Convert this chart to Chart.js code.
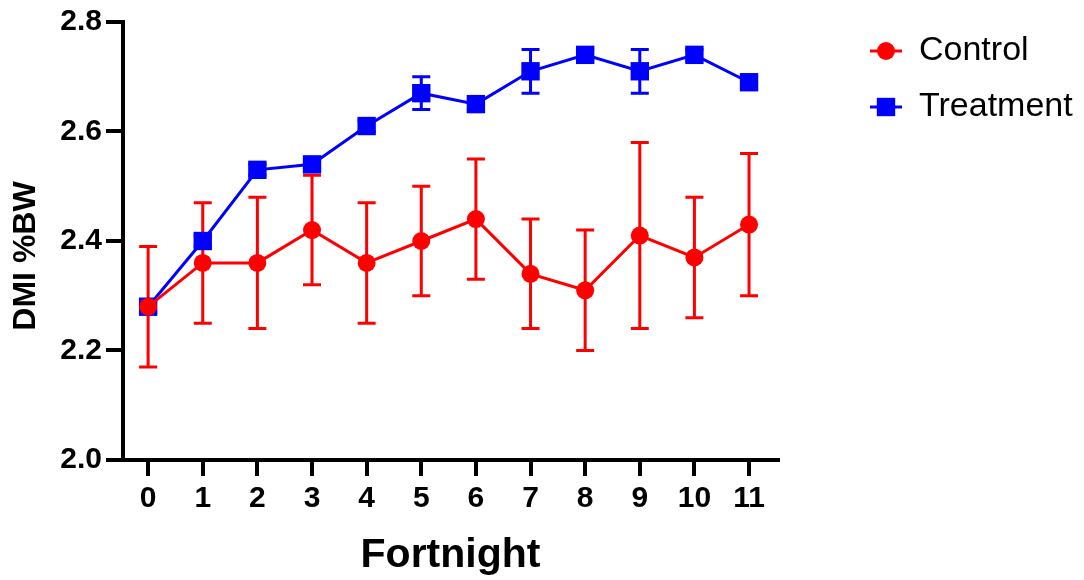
<!DOCTYPE html>
<html>
<head>
<meta charset="utf-8">
<title>DMI %BW by fortnight</title>
<script src="https://cdn.jsdelivr.net/npm/chart.js@4.4.1/dist/chart.umd.min.js"></script>
<style>
  html, body { margin: 0; padding: 0; background: #fff; }
  #wrap { width: 1084px; height: 580px; position: relative; }
</style>
</head>
<body>
<div id="wrap"><canvas id="dmiChart"></canvas></div>
<script>
// Dry matter intake as % body weight, mean and SD per fortnight
const fortnights = [0, 1, 2, 3, 4, 5, 6, 7, 8, 9, 10, 11];
const controlMean = [2.28, 2.36, 2.36, 2.42, 2.36, 2.40, 2.44, 2.34, 2.31, 2.41, 2.37, 2.43];
const controlSd = [0.11, 0.11, 0.12, 0.10, 0.11, 0.10, 0.11, 0.10, 0.11, 0.17, 0.11, 0.13];
const treatmentMean = [2.28, 2.40, 2.53, 2.54, 2.61, 2.67, 2.65, 2.71, 2.74, 2.71, 2.74, 2.69];
const treatmentSd = [0.01, 0.01, 0.01, 0.01, 0.01, 0.03, 0.01, 0.04, 0.01, 0.04, 0.01, 0.01];
const yTicks = [2.0, 2.2, 2.4, 2.6, 2.8];
const yTitle = 'DMI %BW';
const xTitle = 'Fortnight';

const RED = '#ff0000';
const BLUE = '#0000ff';
const FONT = "'Liberation Sans', Arial, Helvetica, sans-serif";

// Vertical error bars with caps, drawn underneath lines and markers
const errorBarPlugin = {
    id: 'errorBars',
    beforeDatasetsDraw(chart) {
        const { ctx, scales: { x, y } } = chart;
        for (let i = chart.data.datasets.length - 1; i >= 0; i--) {
            const ds = chart.data.datasets[i];
            ctx.save();
            ctx.strokeStyle = ds.borderColor;
            ctx.lineWidth = 3;
            ds.data.forEach((pt, j) => {
                const sd = ds.sd[j];
                const px = x.getPixelForValue(pt.x);
                const top = y.getPixelForValue(pt.y + sd);
                const bot = y.getPixelForValue(pt.y - sd);
                ctx.beginPath();
                ctx.moveTo(px, top); ctx.lineTo(px, bot);
                ctx.moveTo(px - 9, top); ctx.lineTo(px + 9, top);
                ctx.moveTo(px - 9, bot); ctx.lineTo(px + 9, bot);
                ctx.stroke();
            });
            ctx.restore();
        }
    }
};

// Legend on the right plus the rotated y-axis title
const sideLegendPlugin = {
    id: 'sideLegend',
    afterDraw(chart) {
        const { ctx } = chart;
        const rows = [51, 107];
        chart.data.datasets.forEach((ds, i) => {
            const cy = rows[i];
            ctx.save();
            ctx.strokeStyle = ds.borderColor;
            ctx.fillStyle = ds.borderColor;
            ctx.lineWidth = 3;
            ctx.beginPath();
            ctx.moveTo(870, cy); ctx.lineTo(902, cy);
            ctx.stroke();
            Chart.helpers.drawPoint(ctx, {
                pointStyle: ds.pointStyle,
                radius: ds.pointRadius,
                borderWidth: 0
            }, 886, cy);
            ctx.fillStyle = '#000';
            ctx.font = '34px ' + FONT;
            ctx.textBaseline = 'middle';
            ctx.textAlign = 'left';
            ctx.fillText(ds.label, 919, cy);
            ctx.restore();
        });

        ctx.save();
        ctx.translate(26, 256);
        ctx.rotate(-Math.PI / 2);
        ctx.fillStyle = '#000';
        ctx.font = 'bold 32px ' + FONT;
        ctx.textAlign = 'center';
        ctx.textBaseline = 'middle';
        ctx.fillText(yTitle, 0, 0);
        ctx.restore();
    }
};

const ctx = document.getElementById('dmiChart').getContext('2d');

new Chart(ctx, {
    type: 'line',
    data: {
        datasets: [
            {
                label: 'Control',
                data: fortnights.map((f, i) => ({ x: f, y: controlMean[i] })),
                sd: controlSd,
                borderColor: RED,
                backgroundColor: RED,
                borderWidth: 3,
                pointStyle: 'circle',
                pointRadius: 9,
                pointBorderWidth: 0,
                tension: 0,
                fill: false
            },
            {
                label: 'Treatment',
                data: fortnights.map((f, i) => ({ x: f, y: treatmentMean[i] })),
                sd: treatmentSd,
                borderColor: BLUE,
                backgroundColor: BLUE,
                borderWidth: 3,
                pointStyle: 'rect',
                pointRadius: 13,
                pointBorderWidth: 0,
                tension: 0,
                fill: false
            }
        ]
    },
    options: {
        responsive: true,
        maintainAspectRatio: false,
        animation: false,
        layout: { padding: { top: 22, right: 306, left: 0, bottom: 0 } },
        scales: {
            x: {
                type: 'linear',
                min: -0.46,
                max: 11.53,
                afterFit: s => { s.height = 120; },
                afterBuildTicks: s => { s.ticks = fortnights.map(v => ({ value: v })); },
                grid: { drawOnChartArea: false, drawTicks: true, tickLength: 16, color: '#000', lineWidth: 4 },
                border: { color: '#000', width: 4 },
                ticks: {
                    color: '#000',
                    padding: 5,
                    font: { family: FONT, size: 30, weight: 'bold' },
                    callback: v => String(v)
                },
                title: {
                    display: true,
                    text: xTitle,
                    color: '#000',
                    font: { family: FONT, size: 41, weight: 'bold' },
                    padding: { top: 0, bottom: 0 }
                }
            },
            y: {
                min: 2.0,
                max: 2.8,
                afterFit: s => { s.width = 123; },
                afterBuildTicks: s => { s.ticks = yTicks.map(v => ({ value: v })); },
                grid: { drawOnChartArea: false, drawTicks: true, tickLength: 17, color: '#000', lineWidth: 4 },
                border: { color: '#000', width: 4 },
                ticks: {
                    color: '#000',
                    padding: 4,
                    font: { family: FONT, size: 30, weight: 'bold' },
                    callback: v => v.toFixed(1)
                }
            }
        },
        plugins: {
            legend: { display: false },
            tooltip: { enabled: false }
        }
    },
    plugins: [errorBarPlugin, sideLegendPlugin]
});
</script>
</body>
</html>
